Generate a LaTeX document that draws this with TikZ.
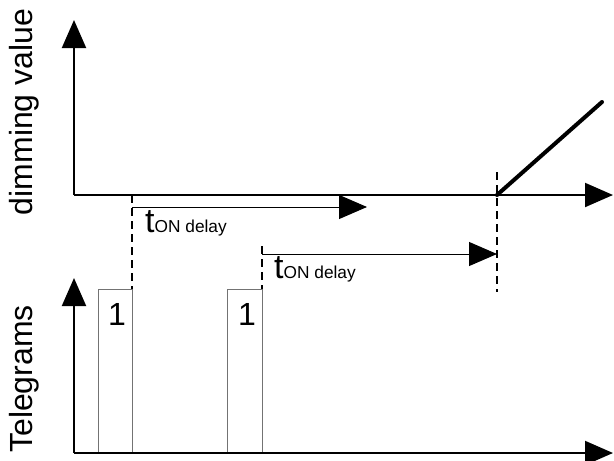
\documentclass[tikz,border=0pt]{standalone}
\usepackage{fontspec}
\setmainfont{Liberation Sans}
\usetikzlibrary{arrows.meta}
\begin{document}
\begin{tikzpicture}[x=1pt,y=-1pt,
  axis/.style={line width=2pt,-{Triangle[length=28pt,width=24pt]}},
  delayarrow/.style={line width=1pt,-{Triangle[length=28pt,width=24pt]}},
  dashline/.style={line width=1.6pt,dash pattern=on 8pt off 5pt},
  pulse/.style={draw=black!55,line width=1pt},
  ramp/.style={line width=4pt},
  bigtxt/.style={font=\fontsize{32}{32}\selectfont,inner sep=0pt},
  lbl/.style={inner sep=0pt,anchor=base west}]
\useasboundingbox (0,0) rectangle (614,461);
% coordinates
\coordinate (o1) at (74,195);
\coordinate (y1) at (74,20);
\coordinate (x1) at (613,195);
\coordinate (o2) at (74,453);
\coordinate (y2) at (74,278);
\coordinate (x2) at (613,453);
\coordinate (d1top) at (132,195);
\coordinate (d1bot) at (132,289);
\coordinate (d2top) at (262,246);
\coordinate (d2bot) at (262,289);
\coordinate (d3top) at (497,172);
\coordinate (d3bot) at (497,292);
\coordinate (a1s) at (132,207);
\coordinate (a1e) at (367,207);
\coordinate (a2s) at (262,254);
\coordinate (a2e) at (497,254);
\coordinate (rs) at (497,195);
\coordinate (re) at (602,102);
% pulses
\draw[pulse] (98,453) |- (132,289) -- (132,453);
\draw[pulse] (227,453) |- (262,289) -- (262,453);
% dashed lines
\draw[dashline] (d1top) -- (d1bot);
\draw[dashline] (d2top) -- (d2bot);
\draw[dashline] (d3top) -- (d3bot);
% axes
\draw[axis] (o1) -- (y1);
\draw[axis] (o1) -- (x1);
\draw[axis] (o2) -- (y2);
\draw[axis] (o2) -- (x2);
% delay arrows
\draw[delayarrow] (a1s) -- (a1e);
\draw[delayarrow] (a2s) -- (a2e);
% ramp
\draw[ramp,line cap=round] (rs) -- (re);
% labels
\node[bigtxt,rotate=90,anchor=base] (lab1) at (32,112) {dimming value};
\node[bigtxt,rotate=90,anchor=base] (lab2) at (32,379) {Telegrams};
\node[lbl] (t1) at (145,232) {{\fontsize{34}{34}\selectfont t}{\fontsize{17.3}{17.3}\selectfont ON delay}};
\node[lbl] (t2) at (274,278) {{\fontsize{34}{34}\selectfont t}{\fontsize{17.3}{17.3}\selectfont ON delay}};
\node[lbl,font=\fontsize{32}{32}\selectfont] (p1) at (108,325) {1};
\node[lbl,font=\fontsize{32}{32}\selectfont] (p2) at (238,325) {1};
\end{tikzpicture}
\end{document}
